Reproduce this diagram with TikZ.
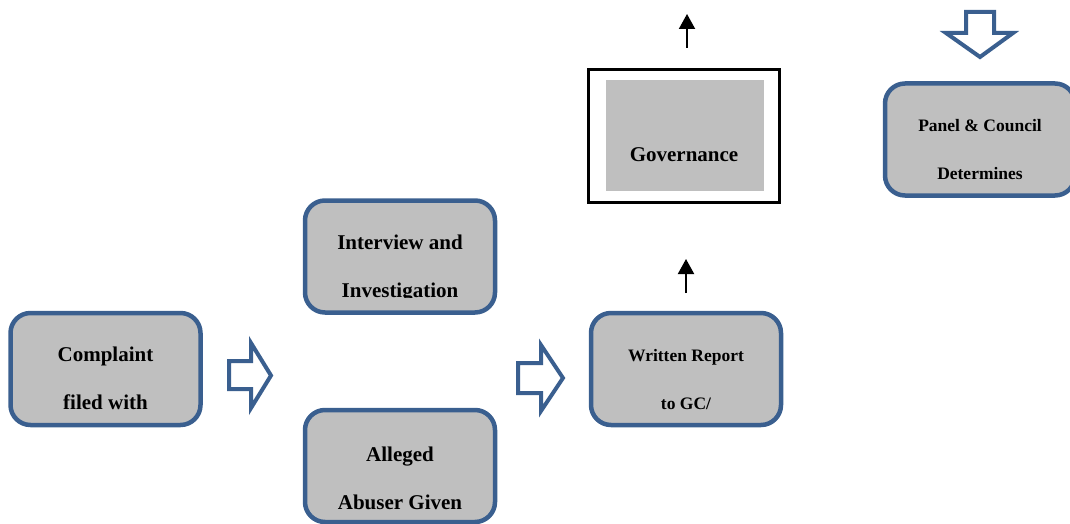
\documentclass[tikz,border=0pt]{standalone}
\usepackage{fontspec}
\setmainfont{Liberation Serif}
\usetikzlibrary{arrows.meta,positioning}

\definecolor{stageblue}{HTML}{3A5F8F}
\definecolor{stagegray}{HTML}{BFBFBF}

\begin{document}
\begin{tikzpicture}[
    x=1pt, y=-1pt,
    stagebox/.style={draw=stageblue, line width=4.5pt, fill=stagegray, rounded corners=20pt, minimum width=190pt, minimum height=112pt, inner sep=0pt},
    bigtext/.style={align=center, inner sep=0pt, font=\bfseries\fontsize{21}{48}\selectfont},
    smalltext/.style={align=center, inner sep=0pt, font=\bfseries\fontsize{17.5}{48}\selectfont},
    blockarrow/.style={draw=stageblue, line width=4pt, fill=white, line join=miter},
    thinarrow/.style={-{Triangle[width=16pt,length=15pt]}, line width=2pt}
]
\useasboundingbox (0,0) rectangle (1070,524);

% Left column
\node[stagebox] (complaint) at (105.5,369) {};
\node[bigtext] (complainttext) at ([yshift=-9.5pt]complaint.center) {Complaint\\filed with};

% Middle column
\node[stagebox] (interview) at (400,256.5) {};
\begin{scope}
    \clip (305,200) rectangle (495,297);
    \node[bigtext] (interviewtext) at ([yshift=-12pt]interview.center) {Interview and\\Investigation};
\end{scope}
\node[stagebox] (alleged) at (400,466) {};
\node[bigtext] (allegedtext) at ([yshift=-12pt]alleged.center) {Alleged\\Abuser Given};

% Report and governance
\node[stagebox] (report) at (686,369) {};
\node[smalltext] (reporttext) at ([yshift=-11pt]report.center) {Written Report\\to GC/};

\node[draw, line width=3.5pt, minimum width=191pt, minimum height=133pt] (govframe) at (684,136) {};
\node[fill=stagegray, minimum width=158pt, minimum height=111pt] (govfill) at (685,135.5) {};
\node[bigtext] (govtext) at (684,155) {Governance};

% Panel (cut at the right edge)
\node[stagebox] (panel) at (980,139.5) {};
\node[smalltext] (paneltext) at ([yshift=-10pt]panel.center) {Panel \& Council\\Determines};

% Block arrows
\draw[blockarrow] (229,361) -- (251,361) -- (251,343) -- (271,375.5) -- (251,408) -- (251,389) -- (229,389) -- cycle;
\draw[blockarrow] (518,363) -- (541,363) -- (541,345) -- (563,378) -- (541,411) -- (541,393) -- (518,393) -- cycle;
\draw[blockarrow] (966,12) -- (994,12) -- (994,33) -- (1013,33) -- (980,57) -- (946,33) -- (966,33) -- cycle;

% Thin arrows
\coordinate (govtail) at (687,48);
\coordinate (govtip) at (687,14);
\coordinate (reporttail) at (686,293);
\coordinate (reporttip) at (686,259);
\draw[thinarrow] (govtail) -- (govtip);
\draw[thinarrow] (reporttail) -- (reporttip);

\end{tikzpicture}
\end{document}
